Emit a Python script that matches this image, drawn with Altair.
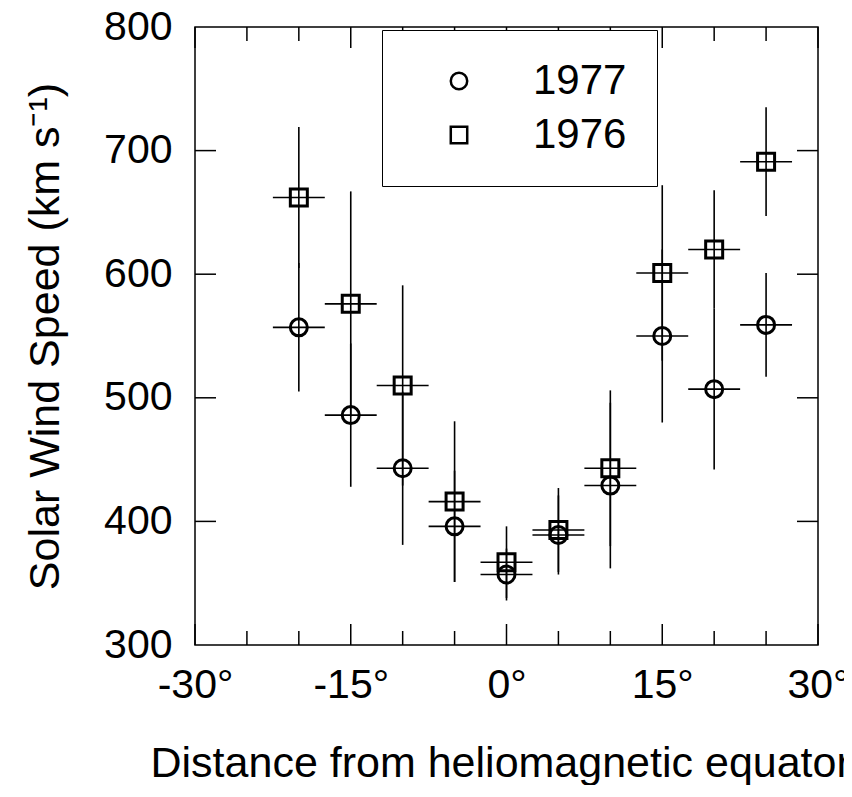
import altair as alt
import pandas as pd

# ---- data ----
lat = [-20, -15, -10, -5, 0, 5, 10, 15, 20, 25]
speed_1977 = [557, 486, 443, 396, 357, 389, 429, 550, 507, 559]
err_1977 = [52, 58, 62, 45, 21, 32, 67, 70, 65, 42]
speed_1976 = [662, 576, 510, 416, 367, 393, 443, 601, 620, 691]
err_1976 = [57, 91, 81, 65, 29, 34, 63, 71, 48, 44]
lat_half_width = 2.5

years = ["1977", "1976"]
x_major = [-30, -15, 0, 15, 30]
x_minor = [-25, -20, -10, -5, 5, 10, 20, 25]
y_ticks = [400, 500, 600, 700]
y_labels = [300, 400, 500, 600, 700, 800]

rows = []
for yr, vals, errs in [("1977", speed_1977, err_1977), ("1976", speed_1976, err_1976)]:
    for x, v, e in zip(lat, vals, errs):
        rows.append({"year": yr, "x": x, "v": v,
                     "lo": v - e, "hi": v + e,
                     "xl": x - lat_half_width, "xh": x + lat_half_width})
df = pd.DataFrame(rows)

W, H = 623, 618
FONT = "Liberation Sans"

xs = alt.Scale(domain=[-30, 30], nice=False, zero=False)
ys = alt.Scale(domain=[300, 800], nice=False, zero=False)

X_AXIS = alt.Axis(values=x_major, labelExpr="datum.value + '°'", ticks=False,
                  domain=False, grid=False, labelFontSize=41, labelPadding=20,
                  labelFont=FONT, labelColor="black", labelFlush=False,
                  title="Distance from heliomagnetic equator",
                  titleFont=FONT, titleFontSize=43, titleFontWeight="normal",
                  titleColor="black", titleAnchor="start", titleAlign="left",
                  titleX=-45, titleY=131, titleBaseline="alphabetic")
Y_AXIS = alt.Axis(values=y_labels, ticks=False, domain=False, grid=False,
                  labelFontSize=41, labelPadding=23, labelFont=FONT,
                  labelColor="black",
                  title="Solar Wind Speed (km s⁻¹)",
                  titleFont=FONT, titleFontSize=43, titleFontWeight="normal",
                  titleColor="black", titleAngle=-90, titleX=-150, titleY=H / 2,
                  titleAlign="center", titleBaseline="middle")

base = alt.Chart(df)

vbars = base.mark_rule(color="black", strokeWidth=1.6).encode(
    x=alt.X("x:Q", scale=xs, axis=X_AXIS),
    y=alt.Y("lo:Q", scale=ys, axis=Y_AXIS),
    y2="hi:Q",
)
hbars = base.mark_rule(color="black", strokeWidth=1.6).encode(
    x=alt.X("xl:Q", scale=xs, axis=X_AXIS),
    x2="xh:Q",
    y=alt.Y("v:Q", scale=ys, axis=Y_AXIS),
)
points = base.mark_point(filled=False, color="black", strokeWidth=3, size=289, opacity=1).encode(
    x=alt.X("x:Q", scale=xs, axis=X_AXIS),
    y=alt.Y("v:Q", scale=ys, axis=Y_AXIS),
    shape=alt.Shape("year:N",
                    scale=alt.Scale(domain=years, range=["circle", "square"]),
                    legend=alt.Legend(title=None, orient="none", legendX=187, legendY=3,
                                      padding=30, strokeColor="black", fillColor="white",
                                      symbolSize=270, symbolStrokeWidth=2.5,
                                      symbolStrokeColor="black", symbolFillColor="white",
                                      labelFontSize=42, labelFont=FONT, labelColor="black",
                                      labelOffset=53, symbolOffset=26, rowPadding=12)),
)

xmaj_df = pd.DataFrame({"t": x_major})
xmin_df = pd.DataFrame({"t": x_minor})
yt_df = pd.DataFrame({"t": y_ticks})

def xtick(d, y0, y1):
    return alt.Chart(d).mark_rule(color="black", strokeWidth=1.5).encode(
        x=alt.X("t:Q", scale=xs, axis=X_AXIS), y=alt.value(y0), y2=alt.value(y1))

def ytick(x0, x1):
    return alt.Chart(yt_df).mark_rule(color="black", strokeWidth=1.5).encode(
        y=alt.Y("t:Q", scale=ys, axis=Y_AXIS), x=alt.value(x0), x2=alt.value(x1))

ticks = [
    xtick(xmaj_df, H, H - 21), xtick(xmin_df, H, H - 14),
    xtick(xmaj_df, 0, 21), xtick(xmin_df, 0, 14),
    ytick(0, 21), ytick(W, W - 21),
]

chart = alt.layer(*ticks, vbars, hbars, points).properties(
    width=W, height=H,
    autosize=alt.AutoSizeParams(type="none"),
    padding={"left": 187, "top": 19, "right": 26, "bottom": 140},
).configure(font=FONT).configure_view(stroke="black", strokeWidth=1.5)

chart.save("out.html", embed_options={"renderer": "svg", "actions": False})
